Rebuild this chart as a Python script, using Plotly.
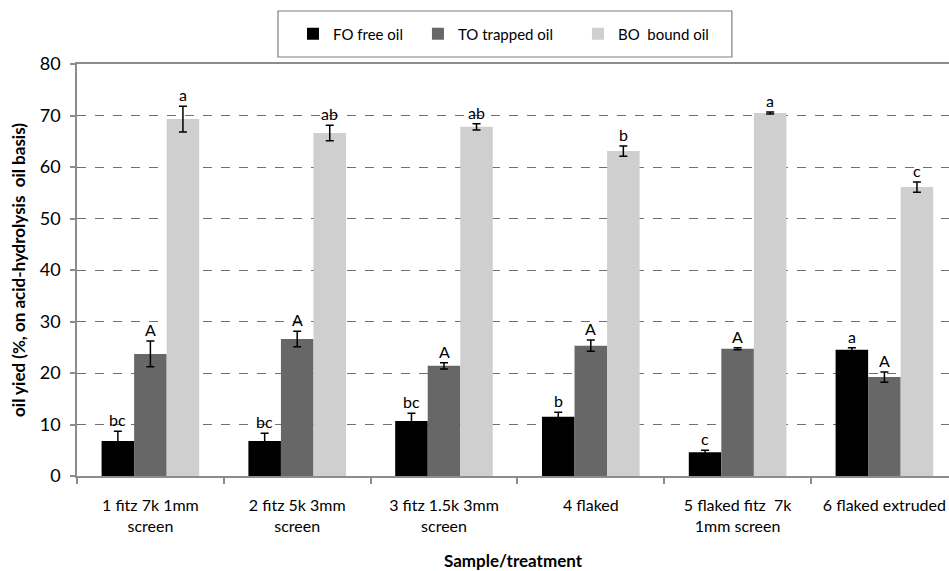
import plotly.graph_objects as go

# Sample / treatment categories (two-line tick labels)
categories = [
    "1 fitz 7k 1mm<br>screen",
    "2 fitz 5k 3mm<br>screen",
    "3 fitz 1.5k 3mm<br>screen",
    "4 flaked",
    "5 flaked fitz  7k<br>1mm screen",
    "6 flaked extruded",
]

# Oil fractions (%, acid-hydrolysis oil basis) with standard errors
fo_free = [6.8, 6.8, 10.7, 11.5, 4.6, 24.5]
fo_err = [1.9, 1.5, 1.5, 0.9, 0.4, 0.4]
to_trapped = [23.7, 26.6, 21.4, 25.3, 24.7, 19.2]
to_err = [2.5, 1.5, 0.6, 1.1, 0.2, 1.0]
bo_bound = [69.3, 66.6, 67.8, 63.1, 70.5, 56.1]
bo_err = [2.5, 1.5, 0.6, 1.0, 0.2, 1.0]

# Significance letters above each bar
fo_letters = ["bc", "bc", "bc", "b", "c", "a"]
to_letters = ["A", "A", "A", "A", "A", "A"]
bo_letters = ["a", "ab", "ab", "b", "a", "c"]

FONT = "Lato, 'Open Sans', Arial, sans-serif"
AXIS_GREY = "#8c8c8c"

series = [
    ("FO free oil", fo_free, fo_err, fo_letters, "#000000"),
    ("TO trapped oil", to_trapped, to_err, to_letters, "#676767"),
    ("BO  bound oil", bo_bound, bo_err, bo_letters, "#cfcfcf"),
]
legend_ids = ["legend", "legend2", "legend3"]
legend_x = [0.2477, 0.391, 0.5745]

fig = go.Figure()
for (name, vals, errs, _, color), lid in zip(series, legend_ids):
    fig.add_trace(go.Bar(
        x=categories, y=vals, name=name, legend=lid,
        marker=dict(color=color, line=dict(width=0)),
        error_y=dict(type="data", array=errs, visible=True,
                     color="#000000", thickness=1.5, width=4),
    ))

# Letter annotations, positioned over each bar's error-bar top
n_series = len(series)
bargap = 0.335
bar_w = (1 - bargap) / n_series
annotations = []
for s_idx, (name, vals, errs, letters, _) in enumerate(series):
    offset = -((1 - bargap) / 2) + bar_w * (s_idx + 0.5)
    for c_idx, (v, e, lab) in enumerate(zip(vals, errs, letters)):
        annotations.append(dict(
            x=c_idx + offset, y=v + e, xref="x", yref="y",
            text=lab, showarrow=False, yanchor="bottom", yshift=0,
            font=dict(family=FONT, size=16, color="#000000"),
        ))

# Frame around the legend entries
shapes = [dict(
    type="rect", xref="paper", yref="paper",
    x0=0.2305, x1=0.751, y0=1.017, y1=1.1286,
    line=dict(color="#7f7f7f", width=1.2), fillcolor="rgba(0,0,0,0)",
    layer="above",
)]

legend_style = dict(
    orientation="h", xanchor="left", y=1.0728, yanchor="middle",
    borderwidth=0, bgcolor="rgba(0,0,0,0)",
    font=dict(family=FONT, size=15),
)

fig.update_layout(
    width=949, height=571,
    margin=dict(l=77, r=0, t=64, b=95),
    paper_bgcolor="white", plot_bgcolor="white",
    barmode="group", bargap=bargap, bargroupgap=0,
    font=dict(family=FONT, size=16, color="#000000"),
    showlegend=True,
    legend=dict(x=legend_x[0], **legend_style),
    legend2=dict(x=legend_x[1], **legend_style),
    legend3=dict(x=legend_x[2], **legend_style),
    annotations=annotations,
    shapes=shapes,
    xaxis=dict(
        type="category",
        range=[-0.5, 5.44],
        showline=True, linecolor=AXIS_GREY, linewidth=1.5, mirror=True,
        ticks="outside", tickson="boundaries", ticklen=6,
        tickcolor=AXIS_GREY, tickwidth=1.5,
        ticklabelstandoff=14,
        tickfont=dict(family=FONT, size=16),
        showgrid=False,
        title=dict(text="<b>Sample/treatment</b>", standoff=22,
                   font=dict(family=FONT, size=17)),
    ),
    yaxis=dict(
        range=[0, 80], dtick=10,
        showline=True, linecolor=AXIS_GREY, linewidth=1.5,
        ticks="outside", ticklen=5, tickcolor=AXIS_GREY, tickwidth=1.5,
        ticklabelstandoff=6,
        tickfont=dict(family=FONT, size=18),
        showgrid=True, gridcolor="#707070", griddash="dash", gridwidth=1,
        zeroline=False,
        title=dict(text="<b>oil yied (%, on acid-hydrolysis  oil basis)</b>",
                   standoff=10, font=dict(family=FONT, size=17)),
    ),
)

fig.write_html("out.html")
